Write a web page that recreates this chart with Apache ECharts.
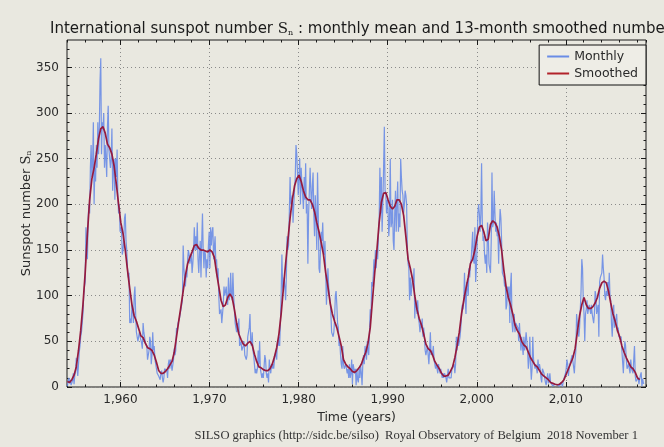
<!DOCTYPE html>
<html>
<head>
<meta charset="utf-8">
<script src="https://cdn.jsdelivr.net/npm/echarts@6/dist/echarts.min.js"></script>
<style>
html,body{margin:0;padding:0;background:#e9e8e0;}
#chart{width:664px;height:447px;}
</style>
</head>
<body>
<div id="chart"></div>
<script>
// Monthly mean total sunspot number, Jan 1954 .. Oct 2018
const startYear = 1954;
const monthlyMean = [
  1,1,10,4,8,2,1,7,15,3,13,16,              // 1954
  32,30,12,25,38,45,55,60,70,80,100,110,    // 1955
  115,175,160,140,185,200,190,240,265,230,245,290, // 1956
  200,240,225,265,240,290,255,280,335,360,255,290, // 1957
  282,300,240,265,250,230,285,308,260,250,240,250, // 1958
  283,215,240,250,205,250,230,260,210,190,200,170, // 1959
  175,170,145,150,160,185,190,160,150,130,120,125, // 1960
  70,75,70,90,85,70,100,110,80,60,55,50,    // 1961
  52,60,55,55,48,42,70,60,55,48,50,45,      // 1962
  30,35,40,55,50,25,35,60,40,45,30,25,      // 1963
  20,15,17,12,12,8,15,18,10,5,10,20,        // 1964
  20,22,18,10,25,30,20,30,25,18,20,30,      // 1965
  42,35,40,65,60,70,68,75,80,80,90,95,      // 1966
  155,130,130,110,125,120,140,150,145,135,135,145, // 1967
  125,135,150,175,150,165,150,180,140,125,145,160, // 1968
  120,160,190,150,130,150,145,120,140,130,155,170, // 1969
  130,175,155,170,175,140,140,165,135,140,120,130, // 1970
  100,80,80,85,70,80,90,110,100,105,110,95,  // 1971
  90,120,95,100,125,100,95,125,100,85,70,65, // 1972
  60,70,60,75,45,45,50,40,40,45,50,35,      // 1973
  35,30,35,55,55,65,80,50,45,60,40,35,      // 1974
  25,15,20,15,20,40,25,50,20,15,10,15,      // 1975
  10,10,35,30,15,10,15,5,30,20,15,25,       // 1976
  20,25,20,30,35,40,30,50,45,55,45,70,      // 1977
  100,145,110,105,120,110,95,120,165,150,155,190, // 1978
  230,200,205,210,180,200,215,230,265,255,235,210, // 1979
  230,250,200,240,220,210,195,230,205,245,190,200, // 1980
  135,190,215,240,215,195,220,235,190,165,210,185, // 1981
  150,235,190,130,125,150,170,160,180,150,145,160, // 1982
  125,90,110,130,110,100,95,80,60,60,55,60,  // 1983
  75,100,105,90,70,65,45,50,35,25,20,45,    // 1984
  25,20,20,25,25,15,20,10,25,10,15,30,      // 1985
  3,25,25,15,20,2,20,8,5,20,10,25,          // 1986
  15,2,25,35,25,45,45,30,50,40,35,60,       // 1987
  85,75,115,110,120,140,130,150,130,150,140,165, // 1988
  180,240,190,230,170,200,240,285,215,210,190,205, // 1989
  195,165,180,250,175,180,205,160,150,190,215,170, // 1990
  200,225,170,190,175,250,230,215,210,190,200,215, // 1991
  210,200,150,135,130,95,120,100,110,120,115,130,  // 1992
  75,95,90,80,95,75,70,60,70,65,75,55,      // 1993
  65,55,40,35,40,45,35,25,40,60,35,40,      // 1994
  35,45,30,25,20,25,20,15,25,20,15,20,      // 1995
  15,10,15,10,15,15,10,5,5,20,10,8,         // 1996
  8,10,20,20,20,25,15,25,55,40,55,45,       // 1997
  50,55,65,65,90,85,95,125,95,80,115,110,   // 1998
  100,130,120,135,140,140,170,140,135,175,115,130, // 1999
  155,190,200,190,170,190,245,180,160,165,145,135, // 2000
  145,125,180,165,135,130,125,160,235,175,180,215, // 2001
  190,170,180,165,170,135,175,195,185,160,125,125, // 2002
  120,110,115,85,90,110,100,110,70,110,125,70,     // 2003
  60,75,80,60,70,70,70,65,50,70,70,40,      // 2004
  55,45,35,55,40,40,60,60,40,20,30,55,      // 2005
  25,8,20,55,30,25,20,25,25,15,30,20,       // 2006
  25,20,10,5,20,20,15,10,5,2,3,15,          // 2007
  4,3,15,5,3,5,1,0.5,1,3,4,5,               // 2008
  2,1,1,1,3,5,4,0.5,6,7,8,15,               // 2009
  20,30,25,12,20,25,25,25,35,35,35,15,      // 2010
  30,40,80,80,60,55,65,65,105,140,130,95,   // 2011
  80,50,80,85,95,80,85,90,90,80,90,80,      // 2012
  80,70,80,105,100,80,85,90,55,115,120,120, // 2013
  125,145,130,120,100,95,105,100,115,100,125,100, // 2014
  95,70,55,75,90,65,65,65,80,60,65,55,      // 2015
  55,55,55,40,40,15,35,50,45,30,20,20,      // 2016
  25,25,15,30,20,20,15,30,45,12,6,8,        // 2017
  7,10,3,9,13,16,1,9,4,4                    // 2018
];
// 13-month smoothed number, sampled quarterly (Jan, Apr, Jul, Oct), 1954 .. Apr 2018
const smoothed13 = [
  6,5,8,13,  22,40,62,90,  125,168,205,228,  240,255,272,283,
  285,278,266,262,  255,242,222,200,  180,168,150,128,  108,90,78,72,
  64,56,54,48,  43,42,40,35,  27,18,15,15,  17,20,24,28,
  38,55,72,88,  105,122,135,142,  148,155,156,152,  150,150,149,148,
  150,148,142,125,  110,95,88,90,  98,102,98,85,  70,58,52,47,
  45,48,50,46,  36,28,22,21,  19,18,18,20,  25,33,43,58,
  80,108,135,160,  185,205,220,228,  232,225,215,208,  205,205,200,192,
  180,170,158,145,  125,110,92,80,  72,65,55,45,  30,25,22,20,
  17,16,18,21,  25,32,38,48,  65,95,125,150,  180,202,212,213,
  205,198,195,198,  205,205,200,188,  165,140,130,118,  100,85,75,68,
  58,47,42,40,  35,28,24,20,  15,12,12,13,  17,22,32,45,
  60,80,95,108,  120,135,140,150,  165,175,177,170,  160,162,178,182,
  180,175,165,150,  128,110,98,90,  80,68,62,58,  50,46,44,38,
  32,28,24,22,  18,14,12,10,  8,5,4,3,  2.5,3,5,8,
  14,20,26,32,  42,60,78,90,  98,90,86,86,  88,92,98,108,
  114,116,114,105,  92,80,72,62,  55,45,38,32,  27,22,20,16,
  10,8
];
const xTicks = [1960, 1970, 1980, 1990, 2000, 2010];
const yTicks = [0, 50, 100, 150, 200, 250, 300, 350];

const monthlyData = monthlyMean.map((v, i) => [startYear + (i + 0.5) / 12, v]);
const smoothData = smoothed13.map((v, i) => [startYear + (i * 3 + 0.5) / 12, v]);

const FONT = 'DejaVu Sans';
const txt = '#2a2a2a';
const xMin = 1954, xMax = 2019, yMin = 0, yMax = 380;

const chart = echarts.init(document.getElementById('chart'), null, {renderer: 'canvas'});
const baseX = {
  type: 'value', min: xMin, max: xMax,
  axisLine: {show: false},
  splitLine: {show: false},
  axisLabel: {show: false}
};
const baseY = {
  type: 'value', min: yMin, max: yMax,
  axisLine: {show: false},
  splitLine: {show: false},
  axisLabel: {show: false}
};
chart.setOption({
  backgroundColor: '#e9e8e0',
  animation: false,
  title: [{
    text: 'International sunspot number {s|S}{n|n} : monthly mean and 13-month smoothed number',
    left: 45, top: 17,
    textStyle: {
      fontFamily: FONT, fontSize: 15, fontWeight: 'normal', color: '#1a1a1a',
      rich: {
        s: {fontFamily: 'DejaVu Serif', fontSize: 15, color: '#1a1a1a'},
        n: {fontFamily: 'DejaVu Serif', fontSize: 8, color: '#1a1a1a', verticalAlign: 'bottom', padding: [6, 0, 0, 0]}
      }
    }
  }, {
    text: 'SILSO graphics (http://sidc.be/silso)  Royal Observatory of Belgium  2018 November 1',
    right: 21, top: 424,
    textStyle: {fontFamily: 'Liberation Serif', fontSize: 12.6, fontWeight: 'normal', color: '#333'}
  }],
  legend: {
    top: 45, right: 18,
    orient: 'vertical',
    backgroundColor: '#eeede6',
    borderColor: '#111', borderWidth: 1, borderRadius: 0,
    padding: [5, 8, 5, 8],
    itemGap: 4, itemWidth: 22, itemHeight: 2,
    icon: 'rect',
    textStyle: {fontFamily: FONT, fontSize: 12.5, color: txt},
    data: ['Monthly', 'Smoothed']
  },
  grid: {
    left: 67, right: 18, top: 40, bottom: 60,
    show: true, borderColor: '#1a1a1a', borderWidth: 1, backgroundColor: 'transparent'
  },
  xAxis: [
    Object.assign({}, baseX, {
      position: 'bottom',
      name: 'Time (years)', nameLocation: 'middle', nameGap: 19,
      nameTextStyle: {fontFamily: FONT, fontSize: 12.5, color: txt},
      axisTick: {show: true, inside: true, length: 5, customValues: xTicks, lineStyle: {color: '#1a1a1a'}},
      axisLabel: {show: true, customValues: xTicks, margin: 7, fontFamily: FONT, fontSize: 12, color: txt},
      splitLine: {show: true, lineStyle: {color: '#8a8a8a', width: 1, type: [1, 3]}}
    }),
    Object.assign({}, baseX, {position: 'bottom', interval: 2,
      axisTick: {show: true, inside: true, length: 2.5, lineStyle: {color: '#1a1a1a'}}}),
    Object.assign({}, baseX, {position: 'top',
      axisTick: {show: true, inside: true, length: 5, customValues: xTicks, lineStyle: {color: '#1a1a1a'}}}),
    Object.assign({}, baseX, {position: 'top', interval: 2,
      axisTick: {show: true, inside: true, length: 2.5, lineStyle: {color: '#1a1a1a'}}})
  ],
  yAxis: [
    Object.assign({}, baseY, {
      position: 'left', interval: 50,
      name: 'Sunspot number {s|S}{n|n}', nameLocation: 'middle', nameGap: 34, nameRotate: 90,
      nameMoveOverlap: false,
      nameTextStyle: {
        fontFamily: FONT, fontSize: 13, color: txt,
        rich: {
          s: {fontFamily: 'DejaVu Serif', fontSize: 13, color: txt},
          n: {fontFamily: 'DejaVu Serif', fontSize: 7.5, color: txt, verticalAlign: 'bottom', padding: [5, 0, 0, 0]}
        }
      },
      axisTick: {show: true, inside: true, length: 5, customValues: yTicks, lineStyle: {color: '#1a1a1a'}},
      minorTick: {show: true, splitNumber: 5, length: 2.5, lineStyle: {color: '#1a1a1a'}},
      axisLabel: {show: true, customValues: yTicks, margin: 8, fontFamily: FONT, fontSize: 12, color: txt},
      splitLine: {show: true, lineStyle: {color: '#8a8a8a', width: 1, type: [1, 3]}}
    }),
    Object.assign({}, baseY, {
      position: 'right', interval: 50,
      axisTick: {show: true, inside: true, length: 5, customValues: yTicks, lineStyle: {color: '#1a1a1a'}},
      minorTick: {show: true, splitNumber: 5, length: 2.5, lineStyle: {color: '#1a1a1a'}}
    })
  ],
  series: [{
    name: 'Monthly', type: 'line', xAxisIndex: 0, yAxisIndex: 0,
    data: monthlyData, showSymbol: false, symbol: 'none',
    lineStyle: {color: '#6a8ce6', width: 1.2, opacity: 0.9},
    itemStyle: {color: '#6a8ce6'},
    z: 2
  }, {
    name: 'Smoothed', type: 'line', xAxisIndex: 0, yAxisIndex: 0,
    data: smoothData, showSymbol: false, symbol: 'none',
    lineStyle: {color: '#951a3e', width: 1.7},
    itemStyle: {color: '#b2222a'},
    z: 3
  }]
});
</script>
</body>
</html>
